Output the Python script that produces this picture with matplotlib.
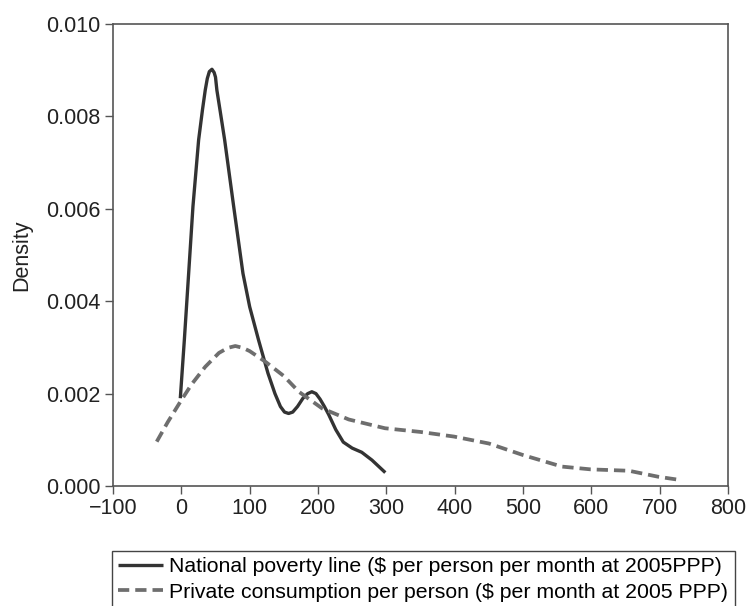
import matplotlib
matplotlib.use("Agg")
import matplotlib.pyplot as plt

plt.rcParams['font.family'] = ['Liberation Sans', 'DejaVu Sans']

# national poverty line density
pov_x = [-1.5, 4.4, 10.7, 17, 25.3, 31, 35, 38, 41, 44.8, 48, 50, 52, 57, 63.4, 76.6,
         90.2, 100, 113, 126.8, 137, 145, 151, 157, 163, 170, 178, 185, 191, 197,
         203, 209, 215.5, 226, 237, 250, 264, 279, 298.5]
pov_y = [1.90, 3.16, 4.60, 6.05, 7.49, 8.15, 8.57, 8.82, 8.97, 9.02, 8.95, 8.85, 8.57,
         8.10, 7.49, 6.05, 4.60, 3.88, 3.16, 2.44, 2.00, 1.72, 1.60, 1.57, 1.60, 1.72,
         1.90, 2.00, 2.04, 2.00, 1.88, 1.73, 1.55, 1.22, 0.95, 0.82, 0.73, 0.56, 0.29]

# private consumption density
cons_x = [-36, -20, -1.6, 15, 35, 55, 68, 79, 90, 100, 123, 150, 172, 206, 245, 298, 350,
          399, 450, 500, 557, 599, 655, 698, 730]
cons_y = [0.96, 1.38, 1.82, 2.20, 2.58, 2.88, 2.99, 3.03, 2.99, 2.92, 2.69, 2.38, 2.04,
          1.68, 1.44, 1.25, 1.17, 1.07, 0.92, 0.67, 0.42, 0.36, 0.33, 0.20, 0.13]

labels = ["National poverty line ($ per person per month at 2005PPP)",
          "Private consumption per person ($ per month at 2005 PPP)"]
xticks = [-100, 0, 100, 200, 300, 400, 500, 600, 700, 800]
yticks = [0.000, 0.002, 0.004, 0.006, 0.008, 0.010]

fig = plt.figure(figsize=(7.47, 6.06), dpi=100)
ax = fig.add_axes([113/747, 1 - 486/606, (728 - 113)/747, (486 - 24)/606])

ax.plot(pov_x, [v/1000 for v in pov_y], color="#333333", linewidth=2.4,
        solid_capstyle="butt", solid_joinstyle="round", label=labels[0])
ax.plot(cons_x, [v/1000 for v in cons_y], color="#6e6e6e", linewidth=2.7,
        linestyle=(0, (3.0, 1.6)), label=labels[1])

ax.set_xlim(-100, 800)
ax.set_ylim(0, 0.010)
ax.set_xticks(xticks)
ax.set_xticklabels(["\u2212100" if t < 0 else str(t) for t in xticks])
ax.set_yticks(yticks)
ax.set_yticklabels([f"{t:.3f}" for t in yticks])
ax.tick_params(direction="out", length=6, width=1, color="#555555",
               labelsize=15.5, labelcolor="#222222", pad=3)
for s in ax.spines.values():
    s.set_color("#555555")
    s.set_linewidth(1.2)
ax.set_ylabel("Density", fontsize=15.5, color="#222222", labelpad=10)

fig.legend(loc="upper left", bbox_to_anchor=(112/747, 1 - 551/606),
           borderaxespad=0, fontsize=15.3, handlelength=2.1, handletextpad=0.3,
           labelspacing=0.3, borderpad=0.3, fancybox=False, frameon=True,
           edgecolor="#444444", framealpha=1)

fig.savefig("out.png", dpi=100)
